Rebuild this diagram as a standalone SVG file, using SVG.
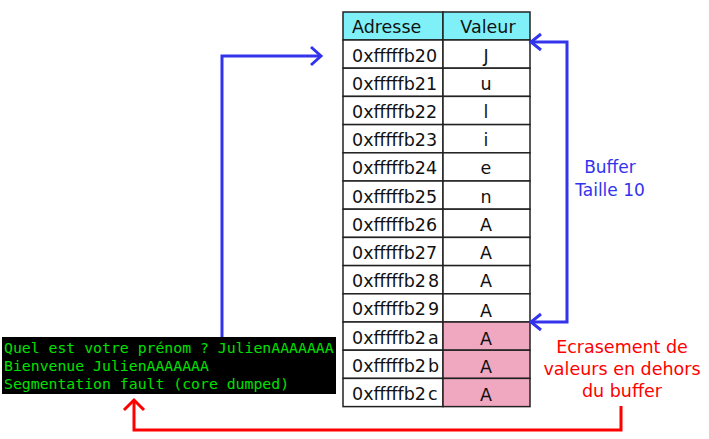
<svg xmlns="http://www.w3.org/2000/svg" width="709" height="439" viewBox="0 0 709 439">
<style>
.cell{fill:#ffffff;stroke:#222;stroke-width:1.5}
.hdr{fill:#80f0f8;stroke:#222;stroke-width:1.5}
.pink{fill:#f0a8c0;stroke:#222;stroke-width:1.5}
.t{font-family:"DejaVu Sans",sans-serif;font-size:17.5px;fill:#111}
.c{text-anchor:middle}
.term{font-family:"DejaVu Sans Mono","Liberation Mono",monospace;font-size:14.8px;fill:#00e000}
.blue{fill:none;stroke:#3333ee;stroke-width:3}
.red{fill:none;stroke:#ff0000;stroke-width:3}
.bt{font-family:"DejaVu Sans",sans-serif;font-size:17px;fill:#3333ee;text-anchor:middle}
.rt{font-family:"DejaVu Sans",sans-serif;font-size:17.5px;fill:#ff0000;text-anchor:middle}
</style>
<rect width="709" height="439" fill="#ffffff"/>
<g id="table">
<rect class="hdr" x="343" y="12" width="100" height="28"/>
<rect class="hdr" x="443" y="12" width="87" height="28"/>
<text class="t" x="352" y="33">Adresse</text>
<text class="t c" x="488" y="33">Valeur</text>
<rect class="cell" x="343" y="40" width="100" height="28.2"/><rect class="cell" x="443" y="40" width="87" height="28.2"/>
<text class="t" x="352" y="61.5">0xfffffb20</text><text class="t c" x="486" y="61.5">J</text>
<rect class="cell" x="343" y="68.2" width="100" height="28.2"/><rect class="cell" x="443" y="68.2" width="87" height="28.2"/>
<text class="t" x="352" y="89.7">0xfffffb21</text><text class="t c" x="486" y="89.7">u</text>
<rect class="cell" x="343" y="96.4" width="100" height="28.2"/><rect class="cell" x="443" y="96.4" width="87" height="28.2"/>
<text class="t" x="352" y="117.9">0xfffffb22</text><text class="t c" x="486" y="117.9">l</text>
<rect class="cell" x="343" y="124.6" width="100" height="28.2"/><rect class="cell" x="443" y="124.6" width="87" height="28.2"/>
<text class="t" x="352" y="146.1">0xfffffb23</text><text class="t c" x="486" y="146.1">i</text>
<rect class="cell" x="343" y="152.8" width="100" height="28.2"/><rect class="cell" x="443" y="152.8" width="87" height="28.2"/>
<text class="t" x="352" y="174.3">0xfffffb24</text><text class="t c" x="486" y="174.3">e</text>
<rect class="cell" x="343" y="181" width="100" height="28.2"/><rect class="cell" x="443" y="181" width="87" height="28.2"/>
<text class="t" x="352" y="202.5">0xfffffb25</text><text class="t c" x="486" y="202.5">n</text>
<rect class="cell" x="343" y="209.2" width="100" height="28.2"/><rect class="cell" x="443" y="209.2" width="87" height="28.2"/>
<text class="t" x="352" y="230.7">0xfffffb26</text><text class="t c" x="486" y="230.7">A</text>
<rect class="cell" x="343" y="237.4" width="100" height="28.2"/><rect class="cell" x="443" y="237.4" width="87" height="28.2"/>
<text class="t" x="352" y="258.9">0xfffffb27</text><text class="t c" x="486" y="258.9">A</text>
<rect class="cell" x="343" y="265.6" width="100" height="28.2"/><rect class="cell" x="443" y="265.6" width="87" height="28.2"/>
<text class="t" x="352" y="287.1">0xfffffb2<tspan dx="2">8</tspan></text><text class="t c" x="486" y="287.1">A</text>
<rect class="cell" x="343" y="293.8" width="100" height="28.2"/><rect class="cell" x="443" y="293.8" width="87" height="28.2"/>
<text class="t" x="352" y="315.3">0xfffffb2<tspan dx="2">9</tspan></text><text class="t c" x="486" y="317">A</text>
<rect class="cell" x="343" y="322" width="100" height="28.2"/><rect class="pink" x="443" y="322" width="87" height="28.2"/>
<text class="t" x="352" y="343.5">0xfffffb2<tspan dx="2">a</tspan></text><text class="t c" x="486" y="345">A</text>
<rect class="cell" x="343" y="350.2" width="100" height="28.2"/><rect class="pink" x="443" y="350.2" width="87" height="28.2"/>
<text class="t" x="352" y="371.7">0xfffffb2<tspan dx="2">b</tspan></text><text class="t c" x="486" y="373">A</text>
<rect class="cell" x="343" y="378.4" width="100" height="28.2"/><rect class="pink" x="443" y="378.4" width="87" height="28.2"/>
<text class="t" x="352" y="399.9">0xfffffb2<tspan dx="2">c</tspan></text><text class="t c" x="486" y="401">A</text>
</g>
<g id="terminal">
<rect x="2" y="337" width="334" height="57" fill="#000000"/>
<text class="term" x="4" y="353">Quel est votre prénom ? JulienAAAAAAA</text>
<text class="term" x="4" y="371">Bienvenue JulienAAAAAAA</text>
<text class="term" x="4" y="389">Segmentation fault (core dumped)</text>
</g>
<g id="buffer-label">
<text class="bt" x="610" y="173">Buffer</text>
<text class="bt" x="610" y="196">Taille 10</text>
</g>
<g id="overwrite-label">
<text class="rt" x="622" y="353">Ecrasement de</text>
<text class="rt" x="622" y="375">valeurs en dehors</text>
<text class="rt" x="622" y="397">du buffer</text>
</g>
<g id="connectors">
<path class="blue" d="M222,337 V56 H320"/>
<path class="blue" d="M311,47 L321,56 L311,65"/>
<path class="blue" d="M531,42 H567 V322 H531"/>
<path class="blue" d="M541,34 L531,42 L541,50"/>
<path class="blue" d="M541,314 L531,322 L541,330"/>
<path class="red" d="M621,406 V430 H134 V401"/>
<path class="red" d="M124,410 L134,400 L144,410"/>
</g>
</svg>
